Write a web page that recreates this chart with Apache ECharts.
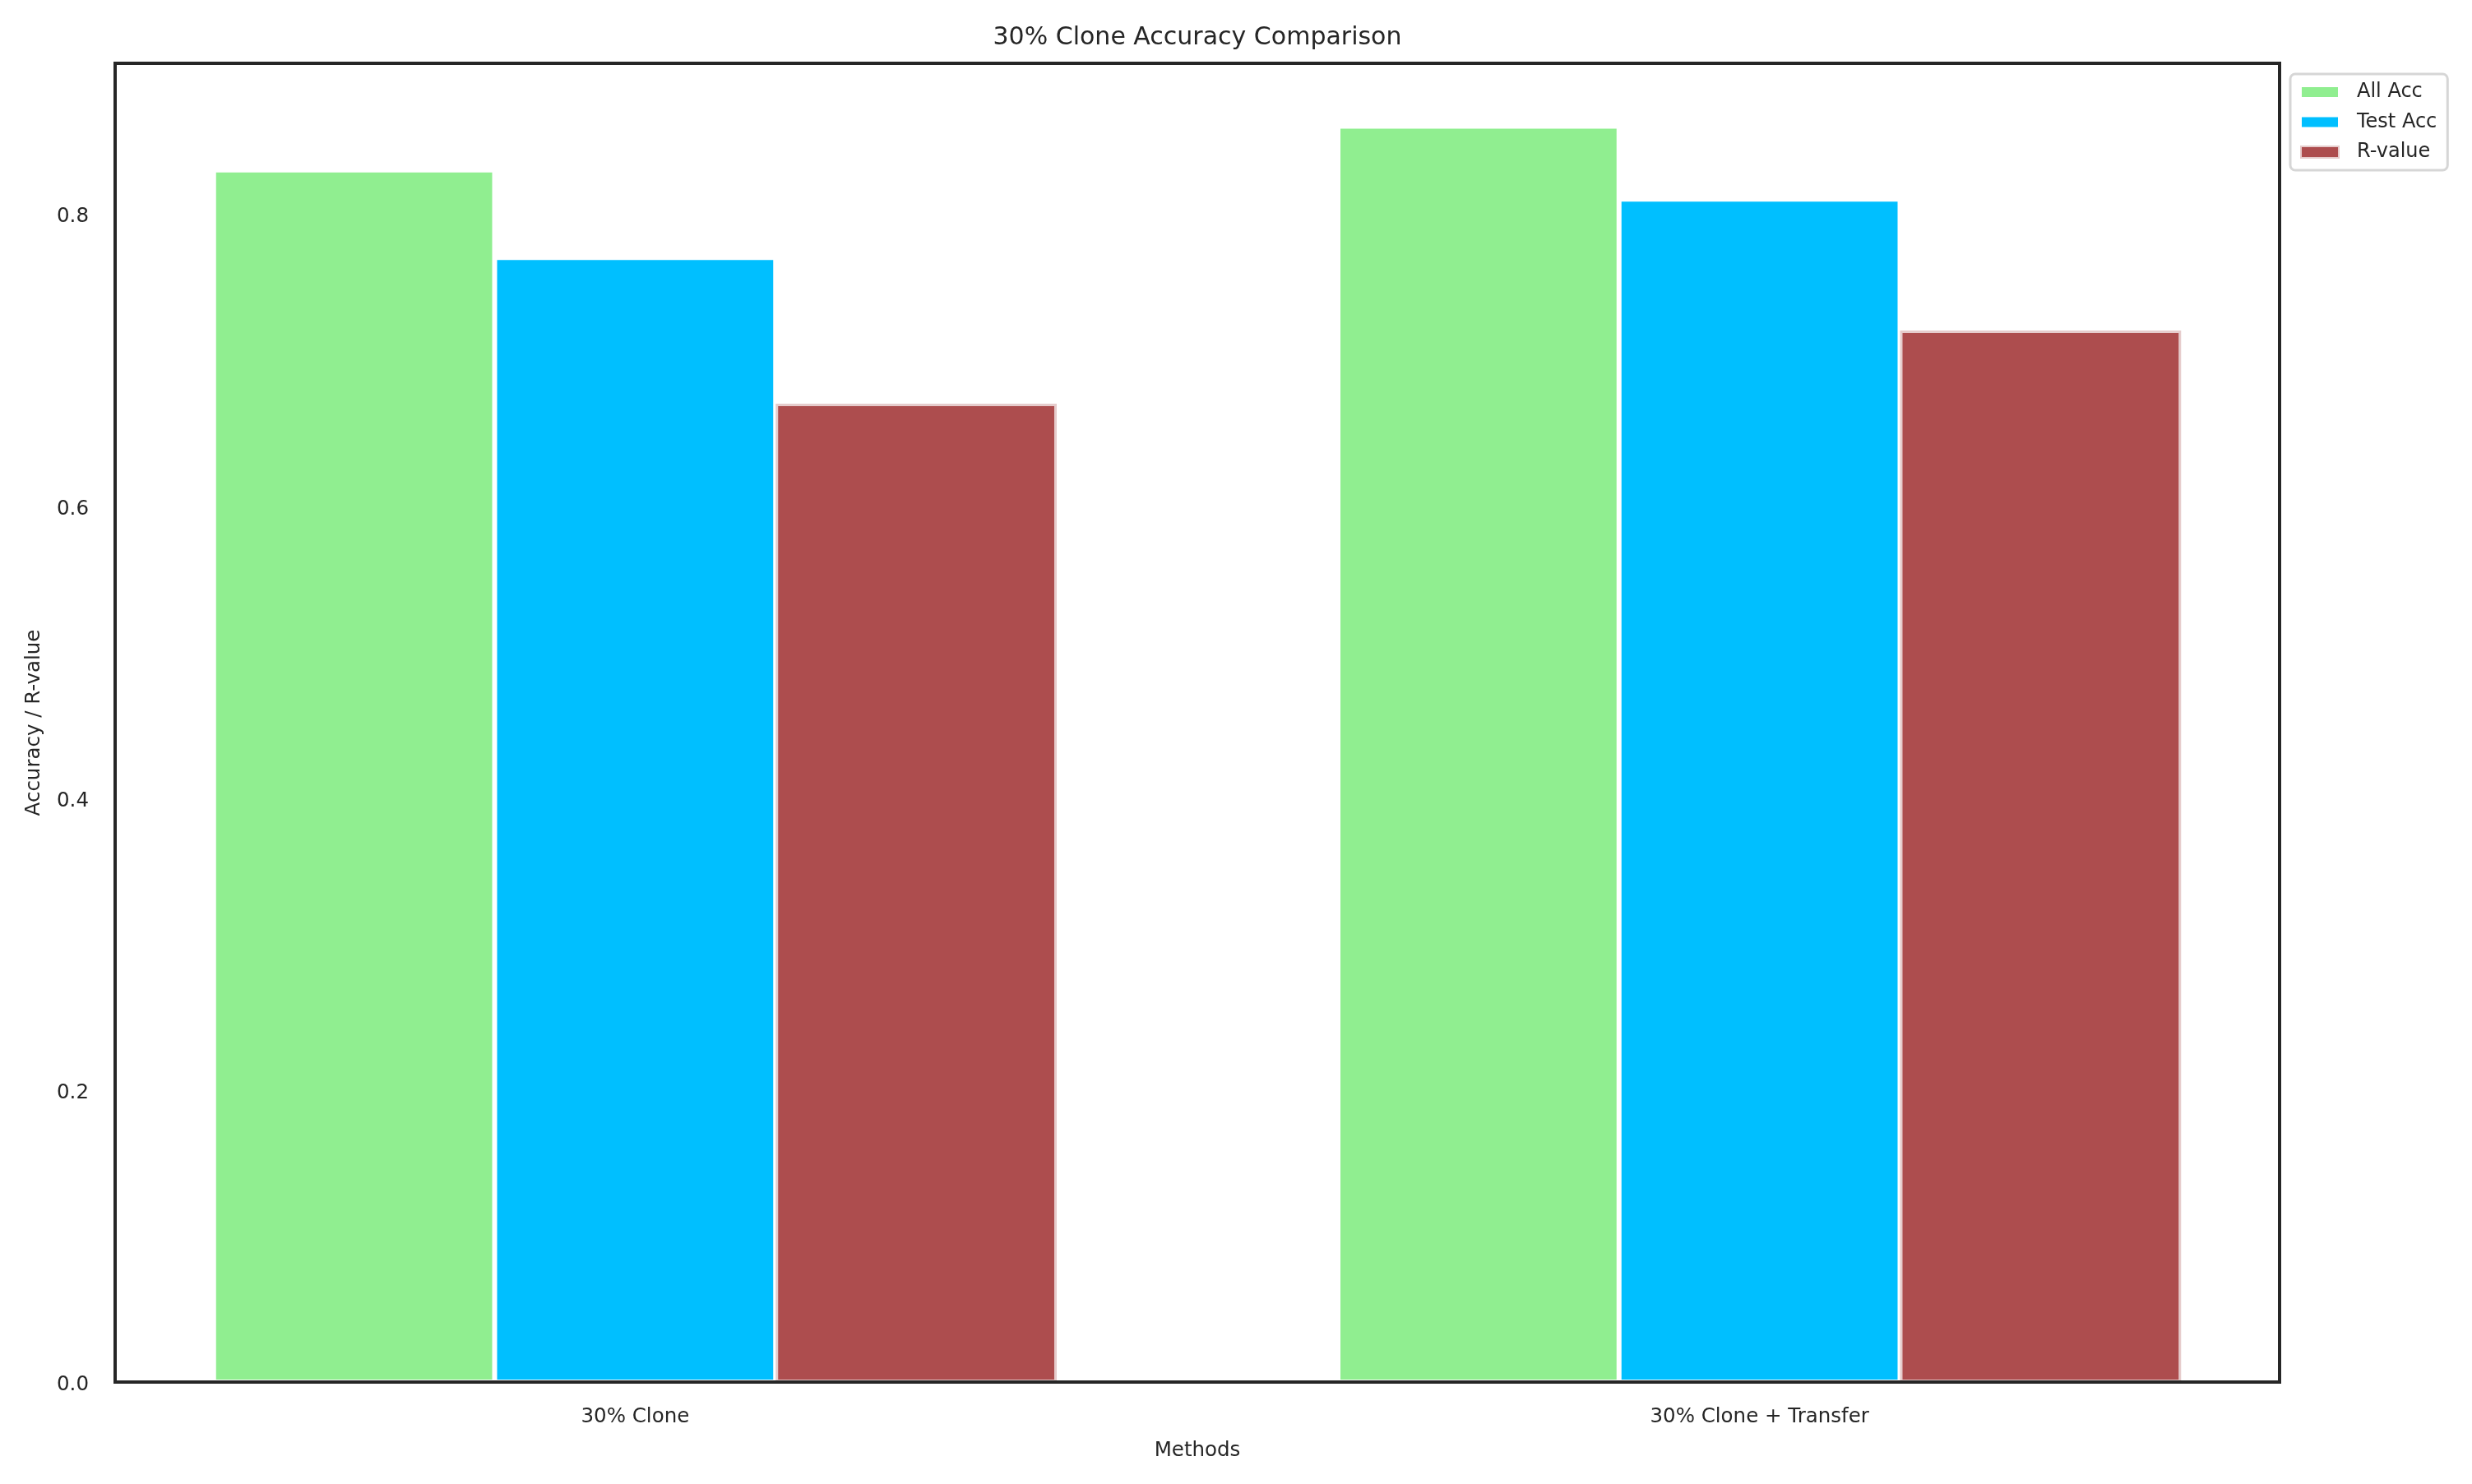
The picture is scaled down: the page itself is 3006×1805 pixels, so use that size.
<!DOCTYPE html>
<html>
<head>
<meta charset="utf-8">
<title>30% Clone Accuracy Comparison</title>
<script src="https://cdn.jsdelivr.net/npm/echarts@6/dist/echarts.min.js"></script>
<style>
	html, body { margin: 0; padding: 0; background: #fff; }
	#bar-chart { width: 3006px; height: 1805px; }
</style>
</head>
<body>
<div id="bar-chart"></div>
<script>
// categories on the x axis
var categories = ['30% Clone', '30% Clone + Transfer'];
// series values
var allAcc = [0.83, 0.86];
var testAcc = [0.77, 0.81];
var rValue = [0.67, 0.72];
var seriesNames = ['All Acc', 'Test Acc', 'R-value'];

var textColor = '#262626';
var font = 'DejaVu Sans';

// bars sit on a value axis so the x margins match the original (0.05 of the range)
function toPoints(values) {
	return values.map(function(v, i) { return [i, v]; });
}

var myChart = echarts.init(document.getElementById('bar-chart'));
var option = {
	animation: false,
	backgroundColor: '#fff',
	textStyle: { fontFamily: font, color: textColor },
	title: {
		text: '30% Clone Accuracy Comparison',
		left: 1451,
		top: 26,
		textAlign: 'center',
		textStyle: { fontFamily: font, fontSize: 30, fontWeight: 'normal', color: textColor }
	},
	legend: {
		orient: 'vertical',
		left: 2785,
		top: 90,
		data: seriesNames,
		icon: 'rect',
		itemWidth: 46,
		itemHeight: 14,
		itemGap: 12.5,
		padding: [10, 13, 10, 12],
		borderColor: '#d6d6d6',
		borderWidth: 3,
		borderRadius: 6,
		backgroundColor: '#fff',
		textStyle: { fontFamily: font, fontSize: 24, color: textColor, padding: [0, 0, 0, 17] }
	},
	grid: {
		left: 140, right: 234, top: 77, bottom: 124,
		show: true,
		z: 10,	// frame on top of the bar edges
		borderColor: textColor,
		borderWidth: 4,
		backgroundColor: 'transparent'
	},
	xAxis: {
		type: 'value',
		min: -0.4625,
		max: 1.4625,
		name: 'Methods',
		nameLocation: 'middle',
		nameGap: 71,
		nameTextStyle: { fontFamily: font, fontSize: 24.5, color: textColor },
		axisLine: { show: false },
		axisTick: { show: false },
		splitLine: { show: false },
		axisLabel: {
			customValues: [0, 1],
			margin: 30,
			fontFamily: font,
			fontSize: 24.5,
			color: textColor,
			formatter: function(v) { return categories[Math.round(v)]; }
		}
	},
	yAxis: {
		type: 'value',
		min: 0,
		max: 0.903,
		interval: 0.2,
		name: 'Accuracy / R-value',
		nameLocation: 'middle',
		nameGap: 86,
		nameTextStyle: { fontFamily: font, fontSize: 24.5, color: textColor },
		axisLine: { show: false },
		axisTick: { show: false },
		splitLine: { show: false },
		axisLabel: {
			margin: 32,
			showMaxLabel: false,
			fontFamily: font,
			fontSize: 24.5,
			color: textColor,
			// nudge the tick text a few px down, like the original
			formatter: function(v) { return '{t|' + v.toFixed(1) + '}'; },
			rich: {
				t: { fontFamily: font, fontSize: 24.5, color: textColor, padding: [8, 0, 0, 0] }
			}
		}
	},
	series: [
		{
			name: 'All Acc',
			type: 'bar',
			data: toPoints(allAcc),
			barWidth: 341.75,
			barGap: '0%',
			itemStyle: { color: '#90ee90', borderColor: '#ffffff', borderWidth: 3 }
		},
		{
			name: 'Test Acc',
			type: 'bar',
			data: toPoints(testAcc),
			barWidth: 341.75,
			barGap: '0%',
			itemStyle: { color: '#00bfff', borderColor: '#ffffff', borderWidth: 3 }
		},
		{
			name: 'R-value',
			type: 'bar',
			data: toPoints(rValue),
			barWidth: 341.75,
			barGap: '0%',
			itemStyle: { color: '#ad4d4e', borderColor: '#e6cccc', borderWidth: 3 }
		}
	]
};
myChart.setOption(option);
</script>
</body>
</html>
